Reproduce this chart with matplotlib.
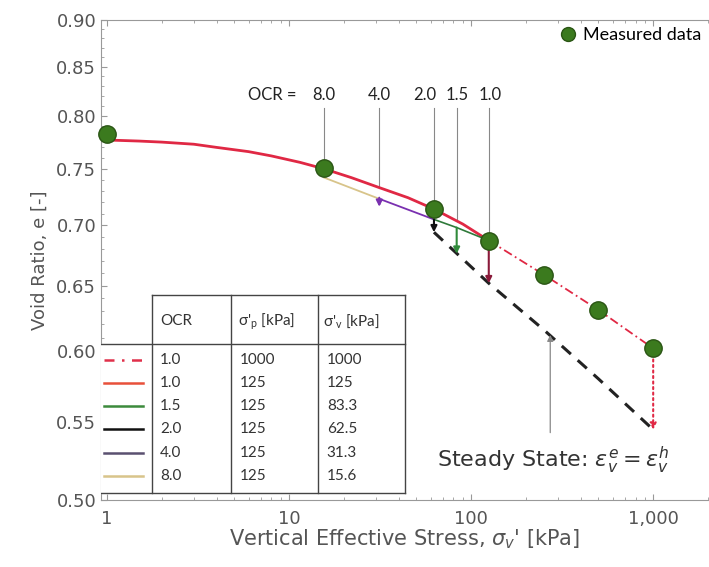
import matplotlib
matplotlib.use("Agg")
import matplotlib.pyplot as plt
from matplotlib.ticker import FixedLocator, FixedFormatter, LogLocator, NullFormatter

# measured points
sig_meas = [1, 15.6, 62.5, 125, 250, 500, 1000]
e_meas = [0.783, 0.751, 0.714, 0.687, 0.659, 0.631, 0.602]

# loading curve (solid red, up to 125 kPa)
sig_load = [1, 1.5, 2, 3, 4, 6, 8, 11.5, 15.6, 22, 31.3, 45, 62.5, 90, 125]
e_load = [0.777, 0.776, 0.775, 0.773, 0.770, 0.766, 0.762, 0.756, 0.750,
          0.742, 0.733, 0.724, 0.714, 0.701, 0.687]

# loading curve beyond 125 kPa (dash-dot red, sigma'p = 1000)
sig_load2 = [125, 250, 500, 1000]
e_load2 = [0.687, 0.659, 0.631, 0.602]

# unloading line from 125 kPa
sig_unl = [15.6, 31.3, 62.5, 83.3, 125]
e_unl = [0.742, 0.723, 0.705, 0.698, 0.687]

# steady state line
sig_ss = [62.5, 125, 250, 500, 1000]
e_ss = [0.694, 0.652, 0.616, 0.580, 0.545]

# table contents
ocr_labels = ["1.0", "1.0", "1.5", "2.0", "4.0", "8.0"]
sig_p = ["1000", "125", "125", "125", "125", "125"]
sig_v = ["1000", "125", "83.3", "62.5", "31.3", "15.6"]
line_colors = ["#e0304a", "#e8503a", "#3c8a3c", "#111111", "#5a5070", "#d8c48a"]
line_styles = [(0, (4, 3, 1, 3)), "-", "-", "-", "-", "-"]

# creep drops: sigma, start e, end e, colour
drop_sig = [31.3, 62.5, 83.3, 125]
drop_start = [0.724, 0.705, 0.698, 0.687]
drop_end = [0.716, 0.694, 0.676, 0.652]
drop_colors = ["#7a30b0", "#111111", "#2f8a3a", "#8a1a3a"]

# OCR labels on top
ocr_top = ["8.0", "4.0", "2.0", "1.5", "1.0"]
ocr_top_sig = [15.6, 31.3, 62.5, 83.3, 125]
ocr_top_e = [0.751, 0.733, 0.714, 0.705, 0.687]
ocr_text_x = [15.6, 31.3, 55.9, 84, 127]

fig = plt.figure(figsize=(7.09, 5.67), dpi=100)
ax = fig.add_axes([101 / 709, 1 - 500 / 567, 607 / 709, 480 / 567])
ax.set_xscale("log")
ax.set_yscale("log")
ax.set_xlim(0.927, 2000)
ax.set_ylim(0.50, 0.90)

grey = "#555555"
for s in ax.spines.values():
    s.set_color("#999999")
    s.set_linewidth(0.8)
ax.spines["right"].set_visible(False)

yt = [0.50, 0.55, 0.60, 0.65, 0.70, 0.75, 0.80, 0.85, 0.90]
ax.yaxis.set_major_locator(FixedLocator(yt))
ax.yaxis.set_major_formatter(FixedFormatter([f"{v:.2f}" for v in yt]))
ax.yaxis.set_minor_locator(FixedLocator([0.50 + 0.01 * i for i in range(41)]))
ax.yaxis.set_minor_formatter(NullFormatter())
xt = [1, 10, 100, 1000]
ax.xaxis.set_major_locator(FixedLocator(xt))
ax.xaxis.set_major_formatter(FixedFormatter(["1", "10", "100", "1,000"]))
ax.xaxis.set_minor_locator(LogLocator(base=10, subs=range(2, 10)))
ax.xaxis.set_minor_formatter(NullFormatter())
ax.tick_params(which="both", direction="in", top=True, colors="#999999",
               labelcolor=grey, labelsize=13)
ax.tick_params(which="major", length=4)
ax.tick_params(which="minor", length=2)
ax.tick_params(axis="x", pad=7)

ax.set_xlabel(r"Vertical Effective Stress, $\sigma_v$' [kPa]", fontsize=15,
              color=grey, labelpad=0)
ax.set_ylabel("Void Ratio, e [-]", fontsize=13, color=grey, labelpad=5)

# curves
ax.plot(sig_load, e_load, color="#e02844", lw=2.0, zorder=3)
ax.plot(sig_load2, e_load2, color="#e02844", lw=1.3,
        linestyle=(0, (5, 2, 1, 2)), zorder=3)
ax.plot(sig_unl[:2], e_unl[:2], color="#d8c48a", lw=1.3, zorder=3)
ax.plot(sig_unl[1:3], e_unl[1:3], color="#7a30b0", lw=1.3, zorder=3)
ax.plot(sig_unl[2:], e_unl[2:], color="#2f7a3a", lw=1.2, zorder=3)
ax.plot(sig_ss, e_ss, color="#222222", lw=2.2, linestyle=(0, (4, 3)), zorder=2)

# creep drops
for s, e0, e1, c in zip(drop_sig, drop_start, drop_end, drop_colors):
    ax.annotate("", xy=(s, e1), xytext=(s, e0),
                arrowprops=dict(arrowstyle="-|>", color=c, lw=1.5,
                                mutation_scale=9, shrinkA=0, shrinkB=0),
                zorder=4)
ax.annotate("", xy=(1000, e_ss[-1]), xytext=(1000, e_load2[-1]),
            arrowprops=dict(arrowstyle="-|>", color="#e02844", lw=1.5,
                            linestyle=":", mutation_scale=9,
                            shrinkA=0, shrinkB=0), zorder=4)

# measured data
ax.plot(sig_meas, e_meas, "o", ms=12.5, color="#3b7a1e", mec="#2a5514",
        mew=1.0, zorder=5, clip_on=False, label="Measured data")
ax.legend(loc="upper left", bbox_to_anchor=(0.742, 1.0), frameon=False,
          handlelength=1.0, handletextpad=0.35, markerscale=0.8,
          borderaxespad=0, prop={"family": "Lato", "size": 13})

# OCR labels with thin lines
tkw = dict(ha="center", va="center", fontsize=12, family="Lato",
           color="#222222")
ax.text(8.05, 0.821, "OCR =", **tkw)
for lab, tx, s, e in zip(ocr_top, ocr_text_x, ocr_top_sig, ocr_top_e):
    ax.text(tx, 0.821, lab, **tkw)
    ax.plot([s, s], [0.808, e], color="#888888", lw=0.8, zorder=1)

# steady state annotation
ax.text(65, 0.525, r"Steady State: $\epsilon_v^e = \epsilon_v^h$",
        fontsize=16, color="#333333", va="center", ha="left")
ax.annotate("", xy=(272, 0.612), xytext=(272, 0.543),
            arrowprops=dict(arrowstyle="-|>", color="#888888", lw=0.9,
                            mutation_scale=9, shrinkA=0, shrinkB=0))

# table
tr = ax.transAxes
xl, xc1, xc2, xc3, xr = 0.0, 0.084, 0.214, 0.357, 0.501
yt_, yh, yb = 0.427, 0.325, 0.0146
tk = dict(color="#444444", lw=1.0, transform=tr, zorder=6)
ax.plot([xc1, xr], [yt_, yt_], **tk)
ax.plot([xl, xr], [yh, yh], **tk)
ax.plot([xl, xr], [yb, yb], **tk)
for xx in [xc1, xc2, xc3, xr]:
    ax.plot([xx, xx], [yb, yt_], **tk)
ax.fill_between([xl, xr], yb, yh, color="white", transform=tr, zorder=5.5)
ax.fill_between([xc1, xr], yh, yt_, color="white", transform=tr, zorder=5.5)

tf = dict(transform=tr, fontsize=11, family="Lato", color="#333333",
          va="center", ha="left", zorder=7)
ax.text(0.097, 0.372, "OCR", **tf)
ax.text(0.226, 0.372, r"σ'$_\mathregular{p}$ [kPa]", **tf)
ax.text(0.366, 0.372, r"σ'$_\mathregular{v}$ [kPa]", **tf)
row_y = [0.2917, 0.2437, 0.1958, 0.1479, 0.0979, 0.05]
for i, y in enumerate(row_y):
    ax.plot([0.005, 0.069], [y, y], color=line_colors[i], lw=1.8,
            linestyle=line_styles[i], transform=tr, zorder=7)
    ax.text(0.097, y, ocr_labels[i], **tf)
    ax.text(0.229, y, sig_p[i], **tf)
    ax.text(0.372, y, sig_v[i], **tf)

fig.savefig("out.png", dpi=100)
